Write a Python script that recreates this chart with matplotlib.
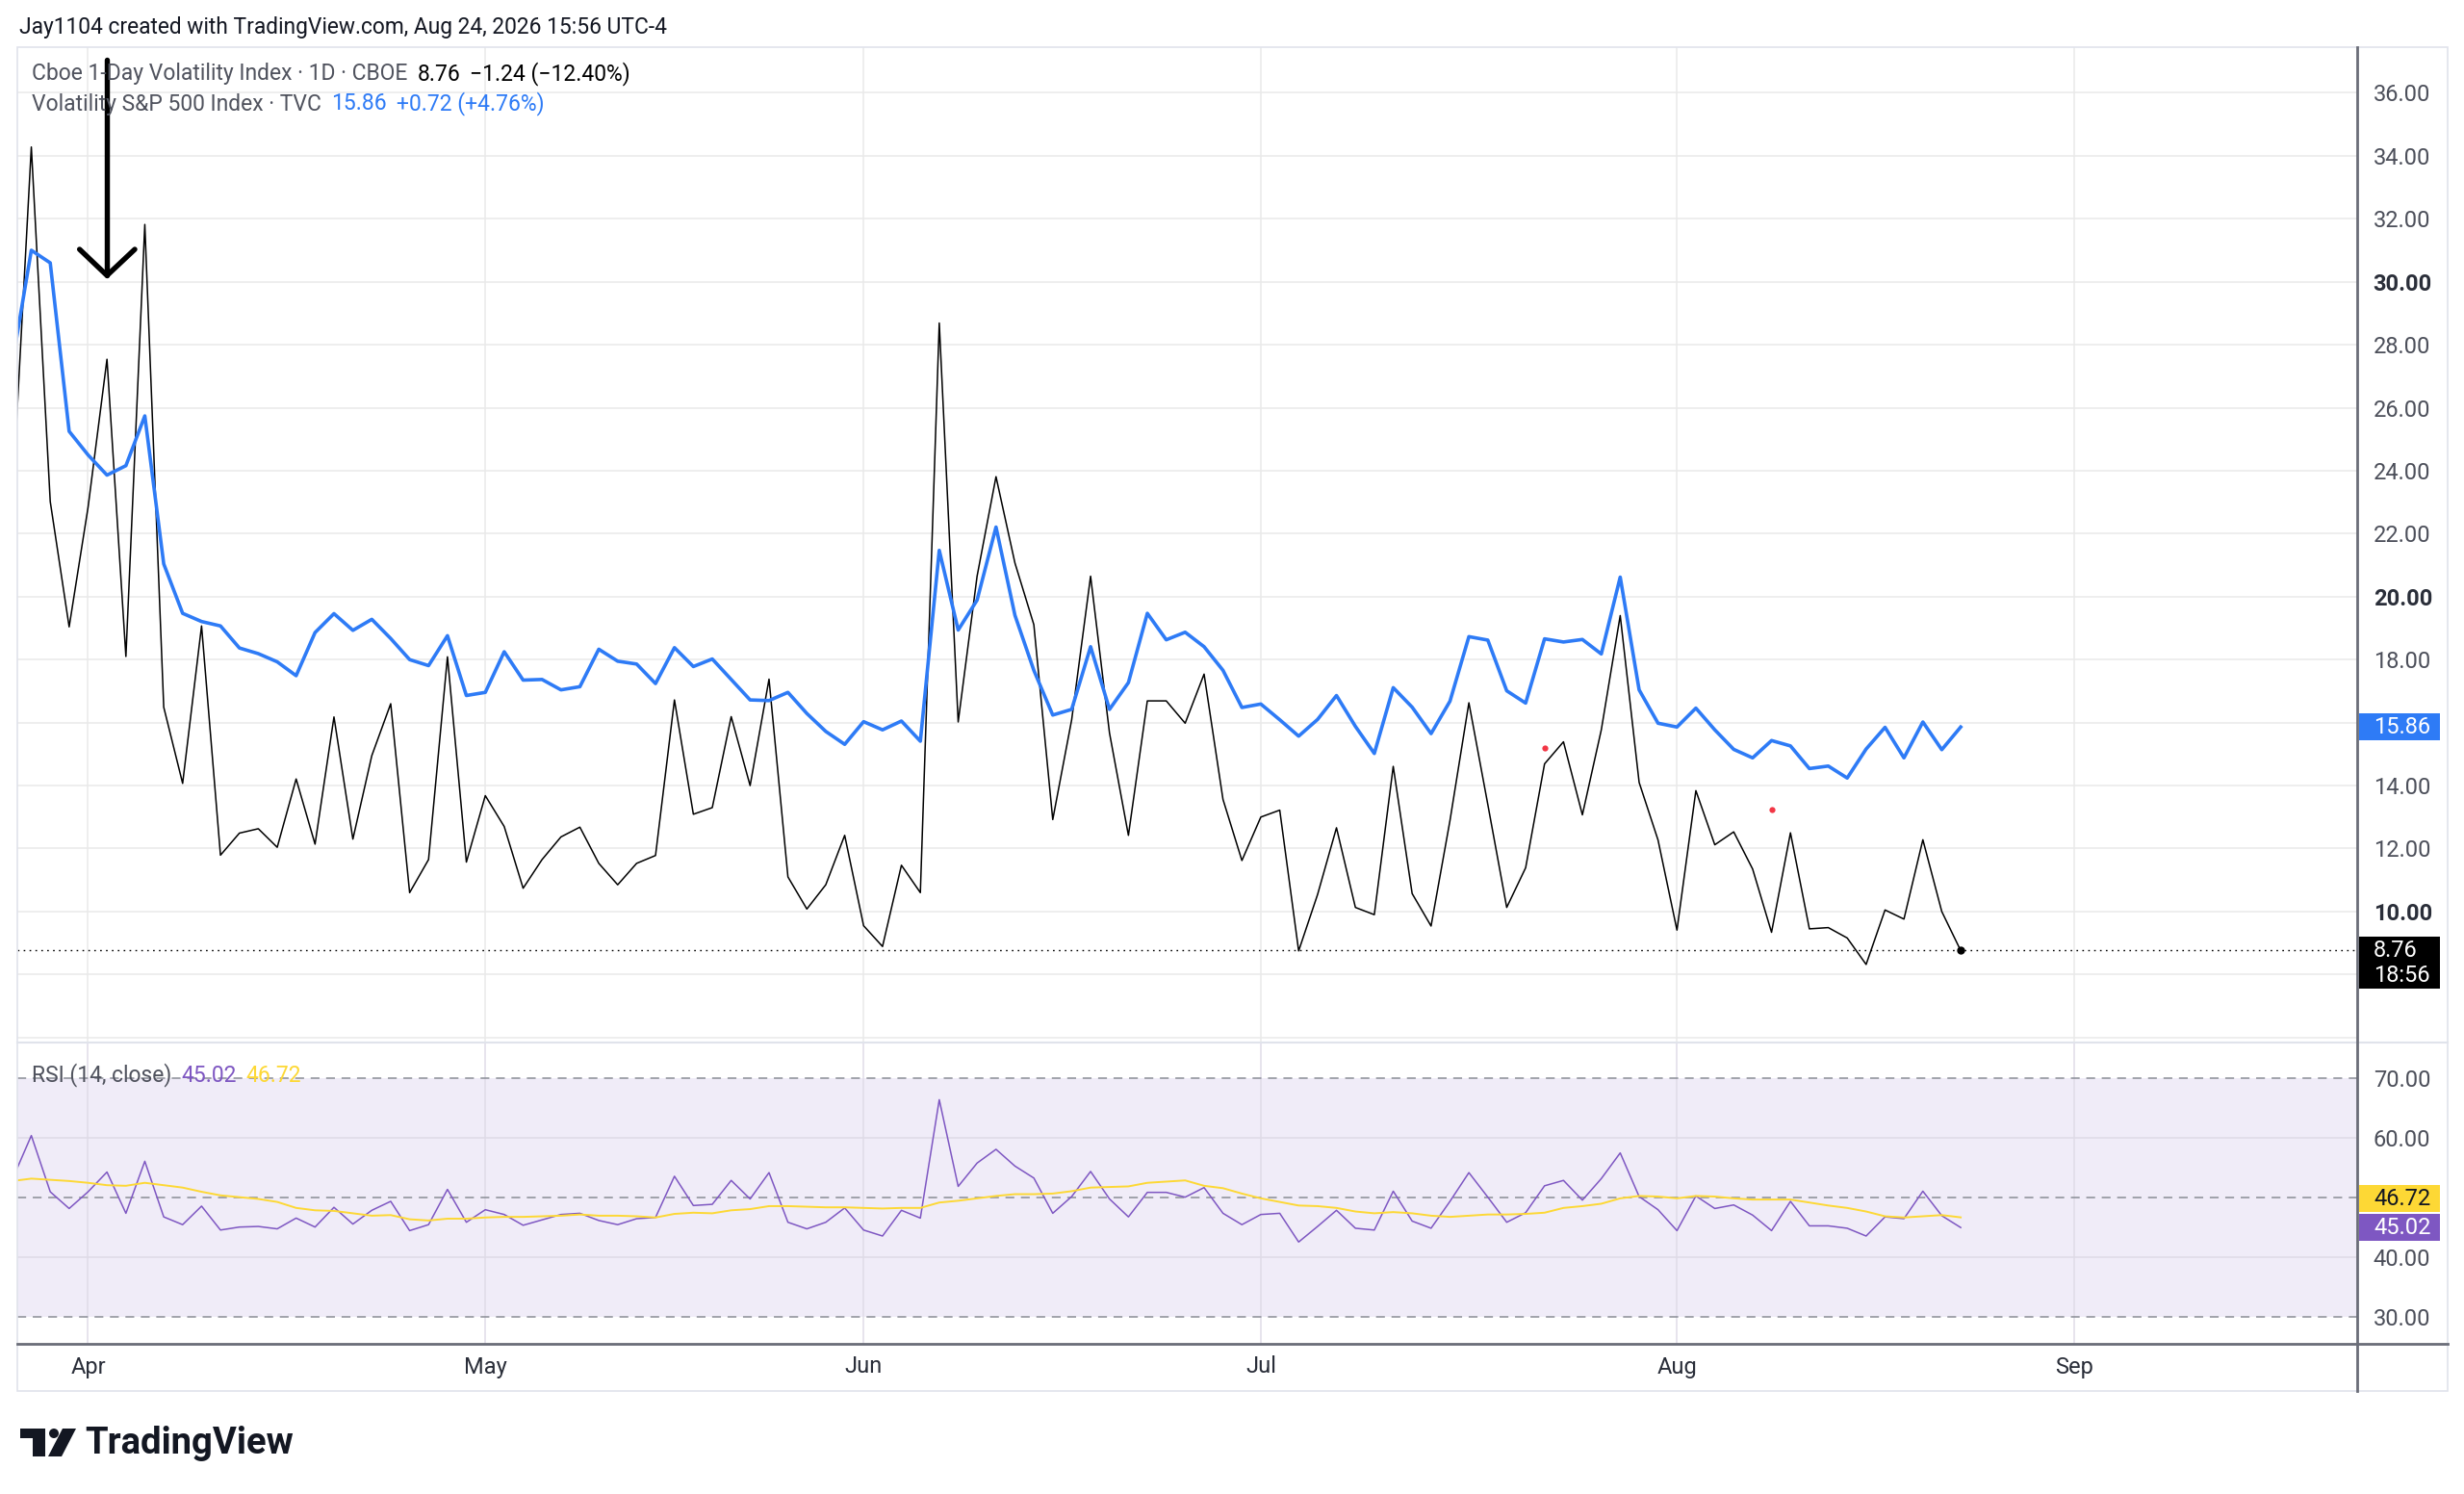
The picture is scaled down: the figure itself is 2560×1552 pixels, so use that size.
import numpy as np
import matplotlib
matplotlib.use("Agg")
import matplotlib.pyplot as plt
from matplotlib.patches import Rectangle, Polygon, Circle

plt.rcParams['font.family'] = ['Roboto', 'DejaVu Sans']

# ---------------- data (daily bars, bar index 0 = Apr 1) ----------------
first_bar = -4
vix1d = [23.1, 34.28, 23.02, 19.04, 22.84, 27.54, 18.1, 31.82, 16.49, 14.07,
         19.07, 11.79, 12.49, 12.63, 12.04, 14.21, 12.14, 16.18, 12.30, 14.95,
         16.6, 10.6, 11.65, 18.09, 11.57, 13.68, 12.70, 10.74, 11.65, 12.37,
         12.68, 11.53, 10.85, 11.53, 11.78, 16.72, 13.09, 13.30, 16.19, 14.0,
         17.38, 11.10, 10.08, 10.85, 12.42, 9.55, 8.89, 11.47, 10.6, 28.69,
         16.02, 20.65, 23.81, 21.07, 19.11, 12.92, 16.09, 20.65, 15.67, 12.42,
         16.69, 16.69, 15.98, 17.54, 13.56, 11.62, 13.0, 13.22, 8.75, 10.54,
         12.66, 10.13, 9.90, 14.61, 10.57, 9.54, 12.89, 16.63, 13.4, 10.13,
         11.39, 14.69, 15.39, 13.07, 15.77, 19.40, 14.10, 12.27, 9.41, 13.84,
         12.12, 12.53, 11.35, 9.34, 12.5, 9.45, 9.49, 9.16, 8.32, 10.05,
         9.76, 12.28, 10.00, 8.76]
vix = [27.43, 31.0, 30.6, 25.25, 24.5, 23.86, 24.16, 25.74, 21.04, 19.47,
       19.21, 19.07, 18.37, 18.19, 17.93, 17.49, 18.86, 19.46, 18.93, 19.28,
       18.67, 18.0, 17.81, 18.76, 16.86, 16.96, 18.25, 17.35, 17.37, 17.04,
       17.14, 18.33, 17.95, 17.86, 17.24, 18.38, 17.78, 18.02, 17.37, 16.72,
       16.70, 16.96, 16.29, 15.72, 15.31, 16.03, 15.77, 16.05, 15.41, 21.47,
       18.94, 19.89, 22.21, 19.41, 17.66, 16.24, 16.42, 18.41, 16.42, 17.27,
       19.47, 18.63, 18.87, 18.41, 17.66, 16.48, 16.59, 16.09, 15.57, 16.10,
       16.86, 15.88, 15.02, 17.11, 16.49, 15.65, 16.68, 18.73, 18.62, 17.01,
       16.62, 18.66, 18.56, 18.64, 18.18, 20.62, 17.04, 15.98, 15.86, 16.46,
       15.77, 15.15, 14.88, 15.43, 15.26, 14.54, 14.62, 14.24, 15.16, 15.85,
       14.88, 16.02, 15.14, 15.86]
rsi = [53.1, 60.4, 51.0, 48.2, 51.0, 54.3, 47.4, 56.1, 46.8, 45.5,
       48.6, 44.6, 45.1, 45.2, 44.8, 46.6, 45.1, 48.4, 45.6, 47.9,
       49.4, 44.5, 45.5, 51.4, 45.9, 48.0, 47.2, 45.4, 46.3, 47.2,
       47.4, 46.2, 45.5, 46.5, 46.7, 53.6, 48.7, 48.9, 52.9, 49.8,
       54.2, 45.9, 44.8, 45.9, 48.3, 44.6, 43.6, 47.9, 46.6, 66.4,
       51.9, 55.8, 58.1, 55.3, 53.3, 47.4, 50.2, 54.4, 49.8, 46.8,
       50.9, 50.9, 50.1, 51.7, 47.4, 45.5, 47.2, 47.4, 42.6, 45.2,
       47.9, 44.9, 44.6, 51.1, 46.1, 44.9, 49.4, 54.2, 50.1, 45.9,
       47.5, 52.0, 52.9, 49.6, 53.2, 57.5, 50.2, 48.0, 44.5, 50.3,
       48.2, 48.8, 47.1, 44.5, 49.4, 45.3, 45.3, 44.9, 43.6, 46.8,
       46.5, 51.1, 47.0, 45.02]
rsi_ma = [52.8, 53.2, 53.0, 52.8, 52.5, 52.1, 52.0, 52.5, 52.1, 51.7,
          51.0, 50.4, 50.1, 49.8, 49.3, 48.3, 47.9, 47.8, 47.4, 47.0,
          47.1, 46.4, 46.2, 46.5, 46.5, 46.7, 46.8, 46.8, 46.9, 47.0,
          47.2, 47.0, 47.0, 46.9, 46.7, 47.3, 47.5, 47.4, 47.9, 48.1,
          48.6, 48.6, 48.5, 48.4, 48.4, 48.3, 48.2, 48.3, 48.3, 49.2,
          49.5, 49.9, 50.3, 50.6, 50.6, 50.7, 51.1, 51.7, 51.8, 51.9,
          52.5, 52.7, 52.9, 52.0, 51.6, 50.7, 49.9, 49.3, 48.7, 48.6,
          48.3, 47.7, 47.4, 47.6, 47.4, 47.0, 46.8, 47.0, 47.2, 47.2,
          47.3, 47.5, 48.3, 48.6, 49.0, 49.9, 50.3, 50.2, 49.9, 50.3,
          50.2, 49.9, 49.7, 49.7, 49.7, 49.2, 48.7, 48.3, 47.7, 46.9,
          46.7, 46.9, 47.1, 46.72]

month_bars = [0, 21, 41, 62, 84, 105]
month_labels = ["Apr", "May", "Jun", "Jul", "Aug", "Sep"]
price_ticks = [10, 12, 14, 16, 18, 20, 22, 24, 26, 28, 30, 32, 34, 36]
price_grid = [6, 8] + price_ticks
bold_price_ticks = [10, 20, 30]
rsi_ticks = [70, 60, 40, 30]
rsi_dashed = [70, 50, 30]
rsi_solid = [60, 40]

marker_bars = [77, 89]
marker_values = [15.2, 13.25]

arrow_bar = 1
arrow_top, arrow_tip = 37.05, 30.2
arrow_wing_bars = [-0.45, 2.47]
arrow_wing_value = 31.03

last_vix1d, chg_vix1d, pct_vix1d = 8.76, "\u22121.24", "(\u221212.40%)"
last_vix, chg_vix, pct_vix = 15.86, "+0.72", "(+4.76%)"
last_rsi, last_rsi_ma = 45.02, 46.72
countdown = "18:56"

header = "Jay1104 created with TradingView.com, Aug 24, 2026 15:56 UTC-4"
title1 = "Cboe 1-Day Volatility Index \u00b7 1D \u00b7 CBOE"
title2 = "Volatility S&P 500 Index \u00b7 TVC"
title_rsi = "RSI (14, close)"

assert len(vix1d) == len(vix) == len(rsi) == len(rsi_ma) == 104
x = np.arange(first_bar, first_bar + len(vix1d))

# ---------------- styling ----------------
W, H = 2560, 1552
BLUE = '#2E7BF6'
PURPLE = '#7E57C2'
YELLOW = '#FDD835'
GRID = '#EAEAEA'
TXT = '#131722'
GRAYTXT = '#50535E'
FS = 17
FS_LEG = 16.5

fig = plt.figure(figsize=(W / 100, H / 100), dpi=100)
fig.patch.set_facecolor('white')

L, R = 18, 2449
TOP, MID, BOT = 49, 1083, 1396
ax = fig.add_axes([L / W, 1 - MID / H, (R - L) / W, (MID - TOP) / H])
ax2 = fig.add_axes([L / W, 1 - BOT / H, (R - L) / W, (BOT - MID) / H])

XLIM = (-3.74, 119.96)
ax.set_xlim(*XLIM)
ax.set_ylim(5.84, 37.45)
ax2.set_xlim(*XLIM)
ax2.set_ylim(25.57, 75.96)

for a in (ax, ax2):
    for s in a.spines.values():
        s.set_visible(False)
    a.set_facecolor('white')

# main pane grid
for v in price_grid:
    ax.axhline(v, color=GRID, lw=1.1, zorder=0)
for m in month_bars:
    ax.axvline(m, color=GRID, lw=1.1, zorder=0)

ax.axhline(last_vix1d, color='black', lw=1.0, ls=(0, (1.2, 3.2)), zorder=1.5)
ax.plot(x, vix1d, color='black', lw=1.1, zorder=2)
ax.plot(x, vix, color=BLUE, lw=2.6, zorder=3, solid_joinstyle='round')
ax.plot([x[-1]], [vix1d[-1]], 'o', color='black', ms=5, zorder=4)
ax.plot(marker_bars, marker_values, 'o', color='#F23645', ms=4.5, mec='none', zorder=4)

# arrow drawing
ax.plot([arrow_bar, arrow_bar], [arrow_top, arrow_tip], color='black', lw=3.9,
        solid_capstyle='round', zorder=6)
ax.plot([arrow_wing_bars[0], arrow_bar, arrow_wing_bars[1]],
        [arrow_wing_value, arrow_tip, arrow_wing_value], color='black', lw=3.9,
        solid_capstyle='round', solid_joinstyle='round', zorder=6)

ax.set_xticks([])
ax.yaxis.tick_right()
ax.set_yticks(price_ticks, [f"{v:.2f}" for v in price_ticks])
ax.tick_params(axis='y', length=0, pad=12, labelsize=FS, labelcolor='#4C4F5A')
for lbl, v in zip(ax.get_yticklabels(), price_ticks):
    if v in bold_price_ticks:
        lbl.set_fontweight('bold')
        lbl.set_color('#2A2E39')

# RSI pane
ax2.axhspan(30, 70, color='#F0ECF8', lw=0, zorder=0)
for m in month_bars:
    ax2.axvline(m, color='#E0DCE8', lw=1.1, zorder=0.5)
for v in rsi_solid:
    ax2.axhline(v, color='#DEDAE6', lw=1.1, zorder=0.5)
for v in rsi_dashed:
    ax2.axhline(v, color='#8A8D96', lw=1.1, ls=(0, (6, 4.5)), zorder=0.6)
ax2.plot(x, rsi, color=PURPLE, lw=1.1, zorder=2)
ax2.plot(x, rsi_ma, color=YELLOW, lw=1.4, zorder=3)

ax2.yaxis.tick_right()
ax2.set_yticks(rsi_ticks, [f"{v:.2f}" for v in rsi_ticks])
ax2.tick_params(axis='y', length=0, pad=12, labelsize=FS, labelcolor='#4C4F5A')
ax2.set_xticks(month_bars, month_labels)
ax2.tick_params(axis='x', length=0, pad=9, labelsize=FS, labelcolor='#2A2E39')

# ---------------- overlay in pixel coordinates ----------------
ov = fig.add_axes([0, 0, 1, 1], zorder=10)
ov.set_xlim(0, W)
ov.set_ylim(H, 0)
ov.axis('off')

ov.add_patch(Rectangle((L, TOP), 2543 - L, 1445 - TOP, fill=False, ec='#E0E3EB', lw=1.2))
ov.plot([L, 2543], [MID, MID], color='#E0E3EB', lw=1.5)
ov.plot([L, 2543], [BOT, BOT], color='#6A6D78', lw=2.0)
ov.plot([R, R], [TOP, 1445], color='#6A6D78', lw=2.0)


def to_px(a, v):
    return H - a.transData.transform((0, v))[1]


renderer = fig.canvas.get_renderer()


def seq_text(x0, y0, parts, fs=FS_LEG, gap=10):
    xx = x0
    for s, c in parts:
        t = ov.text(xx, y0, s, color=c, fontsize=fs, ha='left', va='center')
        bb = t.get_window_extent(renderer=renderer)
        xx += bb.width + gap


ov.text(20, 28, header, fontsize=16.4, color=TXT, ha='left', va='center')
seq_text(33, 77, [(title1, GRAYTXT), (f"{last_vix1d:.2f}", 'black'),
                  (f"{chg_vix1d} {pct_vix1d}", 'black')])
seq_text(33, 108, [(title2, GRAYTXT), (f"{last_vix:.2f}", BLUE),
                   (f"{chg_vix} {pct_vix}", BLUE)])
seq_text(33, 1117, [(title_rsi, GRAYTXT), (f"{last_rsi:.2f}", PURPLE),
                    (f"{last_rsi_ma:.2f}", YELLOW)])

# price scale labels
bx, bw = 2451, 84
yb = to_px(ax, last_vix)
ov.add_patch(Rectangle((bx, yb - 14), bw, 28, color=BLUE, lw=0))
ov.text(2466, yb, f"{last_vix:.2f}", color='white', fontsize=FS, va='center', ha='left')

yk = to_px(ax, last_vix1d)
ov.add_patch(Rectangle((bx, yk - 14), bw, 54, color='black', lw=0))
ov.text(2466, yk, f"{last_vix1d:.2f}", color='white', fontsize=FS, va='center', ha='left')
ov.text(2466, yk + 26, countdown, color='white', fontsize=FS, va='center', ha='left')

yr = to_px(ax2, last_rsi)
ov.add_patch(Rectangle((bx, yr - 14), bw, 28, color=PURPLE, lw=0))
ov.text(2466, yr, f"{last_rsi:.2f}", color='white', fontsize=FS, va='center', ha='left')
ym = yr - 30
ov.add_patch(Rectangle((bx, ym - 14), bw, 28, color=YELLOW, lw=0))
ov.text(2466, ym, f"{last_rsi_ma:.2f}", color=TXT, fontsize=FS, va='center', ha='left')

# TradingView logo
LOGO = '#131722'
ov.add_patch(Polygon([(21, 1484), (47, 1484), (47, 1513), (34, 1513), (34, 1494), (21, 1494)],
                     closed=True, color=LOGO, lw=0))
ov.add_patch(Circle((56, 1489), 5.0, color=LOGO, lw=0))
ov.add_patch(Polygon([(65, 1484), (79, 1484), (64, 1513), (50, 1513)], closed=True, color=LOGO, lw=0))
ov.text(88, 1499, "TradingView", fontsize=27.5, fontweight='bold', color=LOGO, ha='left', va='center')

fig.savefig("out.png", dpi=100, facecolor='white')
